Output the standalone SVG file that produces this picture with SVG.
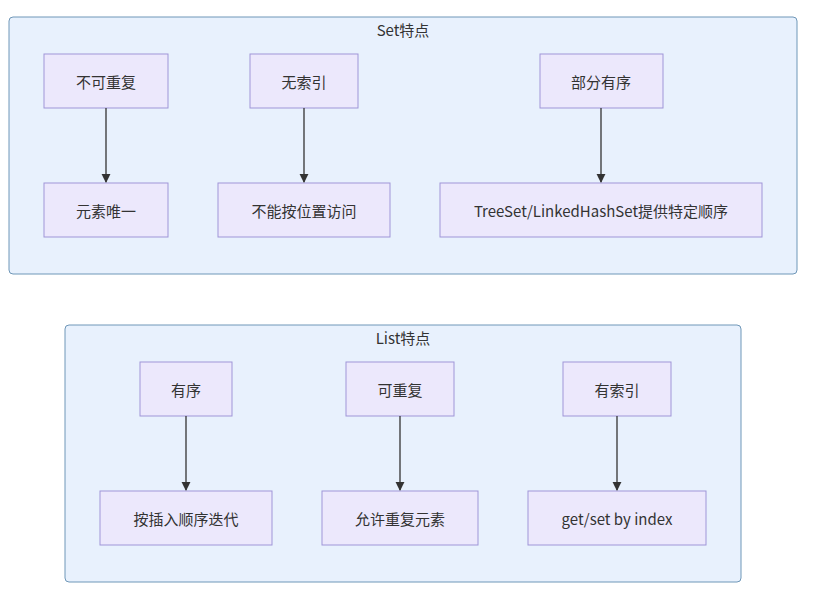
<svg xmlns="http://www.w3.org/2000/svg" width="834" height="603" viewBox="0 0 834 603">
<style>
.c{fill:#e8f1fd;stroke:#6f97b8;stroke-width:1}
.n{fill:#ece8fc;stroke:#9f96d8;stroke-width:1}
text{font-family:"Noto Sans CJK SC","Liberation Sans",sans-serif;font-size:15px;fill:#333;text-anchor:middle;dominant-baseline:central}
.e{stroke:#333;stroke-width:1.3;fill:none;marker-end:url(#a)}
</style>
<defs><marker id="a" viewBox="0 0 10 10" refX="9" refY="5" markerWidth="7" markerHeight="7" orient="auto"><path d="M0,0L10,5L0,10z" fill="#333"/></marker></defs>
<rect width="834" height="603" fill="#fff"/>
<g id="set"><rect class="c" x="9" y="17" width="788" height="257" rx="4"/><text x="403" y="29">Set特点</text></g>
<g id="list"><rect class="c" x="65" y="325" width="676" height="257" rx="4"/><text x="403" y="337">List特点</text></g>
<g id="n1"><rect class="n" x="44" y="54" width="124" height="54"/><text x="106" y="81">不可重复</text></g>
<g id="n2"><rect class="n" x="250" y="54" width="108" height="54"/><text x="304" y="81">无索引</text></g>
<g id="n3"><rect class="n" x="540" y="54" width="123" height="54"/><text x="601" y="81">部分有序</text></g>
<g id="n4"><rect class="n" x="44" y="183" width="124" height="54"/><text x="106" y="210">元素唯一</text></g>
<g id="n5"><rect class="n" x="218" y="183" width="172" height="54"/><text x="304" y="210">不能按位置访问</text></g>
<g id="n6"><rect class="n" x="440" y="183" width="322" height="54"/><text x="601" y="210">TreeSet/LinkedHashSet提供特定顺序</text></g>
<g id="n7"><rect class="n" x="140" y="362" width="92" height="54"/><text x="186" y="389">有序</text></g>
<g id="n8"><rect class="n" x="346" y="362" width="108" height="54"/><text x="400" y="389">可重复</text></g>
<g id="n9"><rect class="n" x="563" y="362" width="108" height="54"/><text x="617" y="389">有索引</text></g>
<g id="n10"><rect class="n" x="100" y="491" width="172" height="54"/><text x="186" y="518">按插入顺序迭代</text></g>
<g id="n11"><rect class="n" x="322" y="491" width="156" height="54"/><text x="400" y="518">允许重复元素</text></g>
<g id="n12"><rect class="n" x="528" y="491" width="178" height="54"/><text x="617" y="518">get/set by index</text></g>
<g id="edges">
<path class="e" d="M106,108V182"/><path class="e" d="M304,108V182"/><path class="e" d="M601,108V182"/>
<path class="e" d="M186,416V490"/><path class="e" d="M400,416V490"/><path class="e" d="M617,416V490"/>
</g>
</svg>
